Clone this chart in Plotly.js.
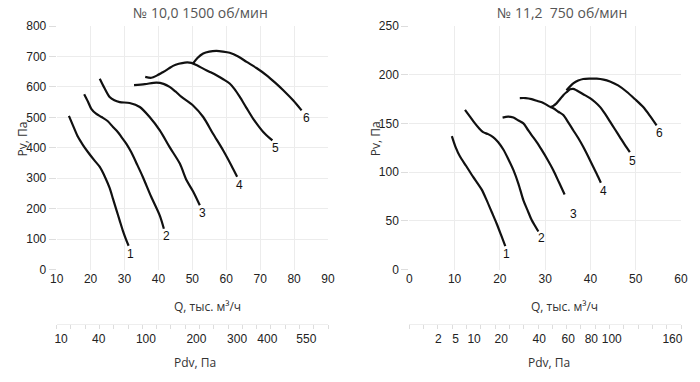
<!DOCTYPE html>
<html>
<head>
<meta charset="utf-8">
<script src="https://cdn.plot.ly/plotly-3.0.1.min.js"></script>
<style>html,body{margin:0;padding:0;background:#fff;}#chart{width:700px;height:382px;}</style>
</head>
<body>
<div id="chart"></div>
<script>
// ---------- DATA: № 10,0 1500 об/мин (Q тыс. м3/ч, Pv Па) ----------
const curveNames = ['1','2','3','4','5','6'];

const qA1 = [13.6,15.0,16.3,17.8,19.2,21.0,22.7,24.2,25.6,26.6,27.6,28.6,29.5,30.4,31.2];
const pA1 = [505,468,435,408,386,360,337,305,268,232,196,160,128,100,78];
const qA2 = [18.1,19.2,20.2,21.6,23.2,25.0,26.6,28.0,29.1,30.6,32.0,33.7,35.4,37.9,40.4,41.6];
const pA2 = [576,552,528,512,501,488,468,452,435,412,385,345,304,238,177,134];
const qA3 = [22.7,24.0,25.6,27.0,28.6,31.5,34.5,37.4,40.4,43.3,46.3,48.3,50.3,52.2];
const pA3 = [627,598,567,556,550,547,534,501,457,402,348,293,255,211];
const qA4 = [32.8,36.0,39.4,41.5,43.3,45.0,46.8,50.2,53.2,56.1,59.1,61.5,63.2];
const pA4 = [606,609,614,610,600,585,567,539,501,446,391,342,305];
const qA5 = [36.1,37.9,39.5,41.4,43.0,44.3,46.0,47.8,49.7,51.5,53.2,55.0,57.1,59.1,61.0,62.5,64.0,65.9,67.9,70.9,73.6];
const pA5 = [633,630,637,649,660,669,676,680,679,670,660,650,638,625,611,592,567,532,496,452,424];
const qA6 = [50.2,51.5,53.2,55.0,57.1,59.0,61.0,63.5,66.0,68.9,71.9,74.4,76.8,79.7,82.2];
const pA6 = [677,695,710,716,718,716,712,700,682,662,638,614,589,556,523];

// ---------- DATA: № 11,2 750 об/мин ----------
const qB1 = [9.4,10.2,11.2,12.6,14.1,15.0,16.0,17.1,18.2,19.3,20.3,21.2];
const pB1 = [137,126,116,106,95,89,82,71,59,47,35,24];
const qB2 = [12.3,13.4,14.5,15.4,16.3,17.4,18.5,19.6,20.8,21.9,23.0,24.1,25.2,26.1,27.0,28.5];
const pB2 = [164,157,150,145,141,139,136,131,123,113,102,88,71,61,51,39];
const qB3 = [20.6,21.8,23.0,24.1,25.2,26.1,27.0,28.1,29.2,30.5,31.8,33.1,34.3];
const pB3 = [156,157,156,153,150,144,138,131,123,113,102,89,77];
const qB4 = [24.4,25.7,27.0,28.3,29.6,30.7,31.8,32.9,34.0,35.1,36.2,37.3,38.4,39.5,40.6,41.4,42.3];
const pB4 = [176,176,175,173,171,168,165.5,162,158.6,151,143,135,126,116,105.5,98,89];
const qB5 = [31.1,31.8,32.5,33.3,34.0,34.7,35.5,36.2,36.9,38.4,39.9,41.0,42.1,43.2,44.3,45.4,46.5,47.6,48.7];
const pB5 = [166.5,168,170.6,175,179,182,185,185.5,184,180,176,172,167,160,152,144,136,128,120.5];
const qB6 = [34.7,35.5,36.2,37.3,38.4,39.9,41.4,42.9,44.3,46.1,48.0,49.8,51.6,53.1,54.6];
const pB6 = [184,188,191,194,195.6,196,196,195,193,189,182.5,175,167,158,148];

// ---------- Pdv secondary scales (label text and its Q position) ----------
const pdvLeftText = ['10','40','100','200','300','400','550'];
const pdvLeftQ    = [11.3,22.4,36.3,51.2,63.2,72.1,83.6];
const pdvRightText = ['2','5','10','20','40','60','80','100','160'];
const pdvRightQ    = [6.4,10.2,14.3,20.3,28.7,35.1,40.2,44.7,58.1];

const titleLeft = '№ 10,0 1500 об/мин';
const titleRight = '№ 11,2  750 об/мин';

// ---------- build ----------
const leftQ = [qA1,qA2,qA3,qA4,qA5,qA6], leftP = [pA1,pA2,pA3,pA4,pA5,pA6];
const rightQ = [qB1,qB2,qB3,qB4,qB5,qB6], rightP = [pB1,pB2,pB3,pB4,pB5,pB6];

const traces = [];
const lineStyle = {color:'#111', width:2.2, shape:'spline', smoothing:0.8};
leftQ.forEach((q,i)=>traces.push({x:q,y:leftP[i],type:'scatter',mode:'lines',line:lineStyle,xaxis:'x',yaxis:'y',hoverinfo:'skip'}));
rightQ.forEach((q,i)=>traces.push({x:q,y:rightP[i],type:'scatter',mode:'lines',line:lineStyle,xaxis:'x2',yaxis:'y2',hoverinfo:'skip'}));
traces.push({x:[null],y:[null],type:'scatter',mode:'lines',xaxis:'x3',yaxis:'y',hoverinfo:'skip'});
traces.push({x:[null],y:[null],type:'scatter',mode:'lines',xaxis:'x4',yaxis:'y2',hoverinfo:'skip'});

const offA = [[2,-8],[3,-7],[3,-8],[2,-8],[3,-8],[5,-8]];
const offB = [[1,-8],[3,-6],[9,-19],[3,-8],[3,-9],[3,-8]];
const annotations = [];
curveNames.forEach((n,i)=>{
  const q=leftQ[i], p=leftP[i];
  annotations.push({x:q[q.length-1], y:p[p.length-1], xref:'x', yref:'y', text:n, showarrow:false, xanchor:'center', yanchor:'middle',
    xshift:offA[i][0], yshift:offA[i][1], font:{family:'Liberation Sans, Arial', size:12, color:'#111'}});
  const q2=rightQ[i], p2=rightP[i];
  annotations.push({x:q2[q2.length-1], y:p2[p2.length-1], xref:'x2', yref:'y2', text:n, showarrow:false, xanchor:'center', yanchor:'middle',
    xshift:offB[i][0], yshift:offB[i][1], font:{family:'Liberation Sans, Arial', size:12, color:'#111'}});
});
const tFont = {family:'Open Sans, Noto Sans', size:14, color:'#555'};
const aFont = {family:'Open Sans, Noto Sans', size:12, color:'#333'};
function note(x,y,text,font,angle){
  annotations.push({xref:'paper',yref:'paper',x:x,y:y,text:text,showarrow:false,xanchor:'center',yanchor:'middle',textangle:angle||0,font:font});
}
note(0.287,0.966,titleLeft,tFont);
note(0.803,0.966,titleRight,tFont);
note(0.296,0.197,'Q, тыс. м³/ч',aFont);
note(0.807,0.197,'Q, тыс. м³/ч',aFont);
note(0.279,0.051,'Pdv, Па',aFont);
note(0.784,0.051,'Pdv, Па',aFont);
note(0.032,0.636,'Pv, Па',aFont,-90);
note(0.536,0.636,'Pv, Па',aFont,-90);

function evenTicks(a,b,n){const r=[];for(let i=0;i<=n;i++)r.push(a+(b-a)*i/n);return r;}

const tickFont = {family:'Liberation Sans, Arial', size:12, color:'#222'};
const grid = '#ececec';
const yDom = [0.2945,0.9319];
const layout = {
  width:700, height:382, margin:{l:0,r:0,t:0,b:0},
  paper_bgcolor:'#fff', plot_bgcolor:'#fff', showlegend:false,
  xaxis:{domain:[0.081,0.4686], range:[10,90], tick0:10, dtick:10, gridcolor:grid, zeroline:false, showline:false, ticks:'', tickfont:tickFont, anchor:'y', tickangle:0},
  yaxis:{domain:yDom, range:[0,800], dtick:100, gridcolor:grid, zeroline:false, showline:false, ticks:'outside', ticklen:7, tickcolor:'#ddd', tickfont:tickFont, anchor:'x'},
  xaxis2:{domain:[0.5847,0.9729], range:[0,60], dtick:10, gridcolor:grid, zeroline:false, showline:false, ticks:'', tickfont:tickFont, anchor:'y2', tickangle:0},
  yaxis2:{domain:yDom, range:[0,250], dtick:50, gridcolor:grid, zeroline:false, showline:false, ticks:'outside', ticklen:7, tickcolor:'#ddd', tickfont:tickFont, anchor:'x2'},
  xaxis3:{overlaying:'x', anchor:'free', position:0.152, side:'bottom', range:[10,90], tickmode:'array', tickvals:pdvLeftQ, ticktext:pdvLeftText, tickangle:0,
    showgrid:false, zeroline:false, showline:true, linecolor:'#eee', linewidth:1, ticks:'outside', ticklen:4, tickcolor:'rgba(0,0,0,0)', tickfont:tickFont,
    minor:{tickmode:'array', tickvals:evenTicks(10,90,19), ticks:'outside', ticklen:4, tickcolor:'#ddd', showgrid:false}},
  xaxis4:{overlaying:'x2', anchor:'free', position:0.152, side:'bottom', range:[0,60], tickmode:'array', tickvals:pdvRightQ, ticktext:pdvRightText, tickangle:0,
    showgrid:false, zeroline:false, showline:true, linecolor:'#eee', linewidth:1, ticks:'outside', ticklen:4, tickcolor:'rgba(0,0,0,0)', tickfont:tickFont,
    minor:{tickmode:'array', tickvals:evenTicks(0,60,19), ticks:'outside', ticklen:4, tickcolor:'#ddd', showgrid:false}},
  annotations:annotations
};
Plotly.newPlot('chart', traces, layout, {staticPlot:true, displayModeBar:false});
</script>
</body>
</html>
